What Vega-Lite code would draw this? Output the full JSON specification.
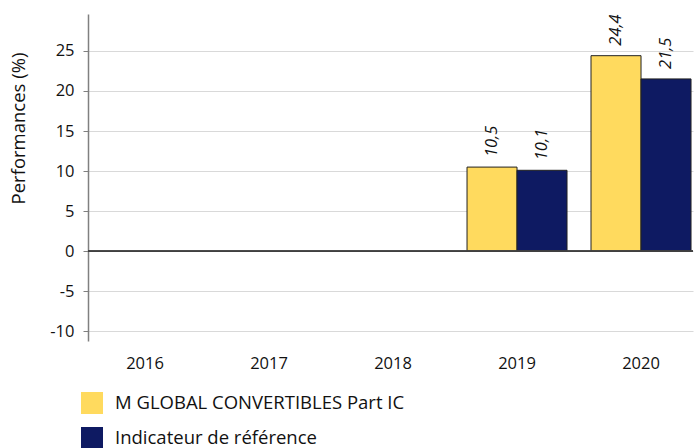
{
  "$schema": "https://vega.github.io/schema/vega-lite/v6.json",
  "autosize": "none",
  "width": 605,
  "height": 327,
  "padding": {"left": 88, "top": 14, "right": 1, "bottom": 107},
  "background": "white",
  "config": {
    "view": {"stroke": null},
    "font": "Open Sans",
    "locale": {"number": {"decimal": ",", "thousands": " ", "grouping": [3], "currency": ["", " €"], "minus": "-"}}
  },
  "data": {
    "values": [
      {"annee": "2019", "serie": "M GLOBAL CONVERTIBLES Part IC", "perf": 10.5},
      {"annee": "2019", "serie": "Indicateur de référence", "perf": 10.1},
      {"annee": "2020", "serie": "M GLOBAL CONVERTIBLES Part IC", "perf": 24.4},
      {"annee": "2020", "serie": "Indicateur de référence", "perf": 21.5}
    ]
  },
  "encoding": {
    "x": {
      "field": "annee", "type": "nominal",
      "scale": {"domain": ["2016", "2017", "2018", "2019", "2020"], "paddingInner": 0.1935, "paddingOuter": 0.0363, "align": 0.78},
      "axis": {"title": null, "labelAngle": 0, "domain": false, "ticks": false, "grid": false, "labelPadding": 14, "labelFontSize": 16.5, "labelColor": "#111111", "labelFont": "Open Sans"}
    },
    "xOffset": {
      "field": "serie", "type": "nominal",
      "scale": {"domain": ["M GLOBAL CONVERTIBLES Part IC", "Indicateur de référence"], "paddingInner": 0, "paddingOuter": 0}
    },
    "y": {
      "field": "perf", "type": "quantitative",
      "scale": {"domain": [-11.2, 29.6], "nice": false, "zero": false},
      "axis": {
        "title": "Performances (%)", "titleFontSize": 18.5, "titleFontWeight": "normal", "titleColor": "#111111", "titleFont": "Open Sans", "titleX": -70, "titleY": 114, "titleAlign": "center", "titleBaseline": "middle", "titleAngle": 270,
        "values": [-10, -5, 0, 5, 10, 15, 20, 25],
        "labelFontSize": 16.5, "labelColor": "#111111", "labelPadding": 9, "labelFont": "Open Sans",
        "domainColor": "#808080", "domainWidth": 1.5,
        "tickColor": "#808080", "tickSize": 5, "tickWidth": 1,
        "gridColor": "#D9D9D9", "gridWidth": 1
      }
    }
  },
  "layer": [
    {
      "mark": {"type": "bar", "stroke": "#222222", "strokeWidth": 1},
      "encoding": {
        "color": {
          "field": "serie", "type": "nominal",
          "scale": {"domain": ["M GLOBAL CONVERTIBLES Part IC", "Indicateur de référence"], "range": ["#FFDA5E", "#0E1A62"]},
          "legend": {
            "title": null, "orient": "none", "legendX": -7, "legendY": 378, "direction": "vertical",
            "symbolType": "square", "symbolSize": 484, "symbolStrokeWidth": 0, "symbolOpacity": 1,
            "labelFontSize": 18.5, "labelColor": "#111111", "labelFont": "Open Sans", "rowPadding": 13, "labelOffset": 12, "labelLimit": 400
          }
        }
      }
    },
    {
      "mark": {"type": "text", "angle": 270, "align": "left", "baseline": "middle", "dx": 10, "fontStyle": "italic", "fontSize": 16.5, "color": "#111111"},
      "encoding": {
        "text": {"field": "perf", "type": "quantitative", "format": ".1f"}
      }
    },
    {
      "mark": {"type": "rule", "color": "#404040", "strokeWidth": 1.5},
      "encoding": {"y": {"datum": 0}, "x": null, "xOffset": null}
    }
  ]
}
